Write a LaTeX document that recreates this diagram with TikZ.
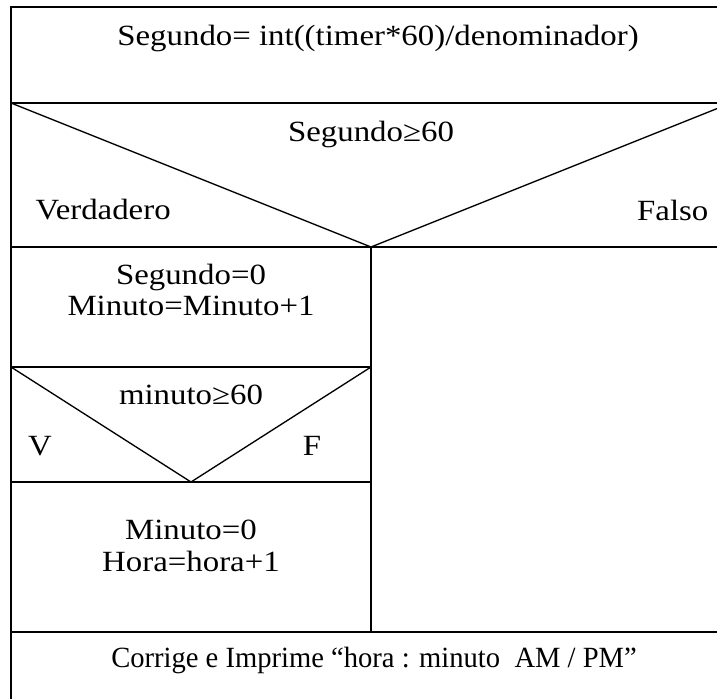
\documentclass[tikz,border=0pt]{standalone}
\usepackage{graphicx}
\usepackage{fontspec}
\setmainfont{Liberation Serif}[FakeStretch=1.12]
\begin{document}
\begin{tikzpicture}[x=0.75pt, y=-0.75pt, line width=1pt,
  txt/.style={font=\fontsize{22}{23.5}\selectfont, align=center, inner sep=0pt}]
  \useasboundingbox (0,0) rectangle (717,699);
  \clip (0,0) rectangle (717,699);

  % frame and rows
  \draw (11,699) -- (11,7) -- (731,7) -- (731,699);
  \draw (11,103) -- (731,103);
  \draw (11,247) -- (731,247);
  \draw (11,632) -- (731,632);
  % outer decision
  \draw (11,103) -- (371,247) -- (731,103);
  \draw (371,247) -- (371,632);
  % inner decision
  \draw (11,367) -- (371,367);
  \draw (11,482) -- (371,482);
  \draw (11,367) -- (191,482) -- (371,367);

  \node[txt] (seg)  at (378,38)  {Segundo= int((timer*60)/denominador)};
  \node[txt] (cond) at (371,134) {Segundo≥60};
  \node[txt, anchor=west] (verd) at (35,210) {Verdadero};
  \node[txt, anchor=east] (fals) at (709,210) {Falso};
  \node[txt] (reset) at (191,290) {Segundo=0\\Minuto=Minuto+1};
  \node[txt] (min)  at (191,395) {minuto≥60};
  \node[txt] (v)    at (40,446)  {V};
  \node[txt] (f)    at (312,446) {F};
  \node[txt] (hora) at (191,546) {Minuto=0\\Hora=hora+1};
  \node[txt] (out)  at (374,660) {\scalebox{0.87}[1]{Corrige e Imprime “hora : minuto\ \ AM / PM”}};
\end{tikzpicture}
\end{document}
